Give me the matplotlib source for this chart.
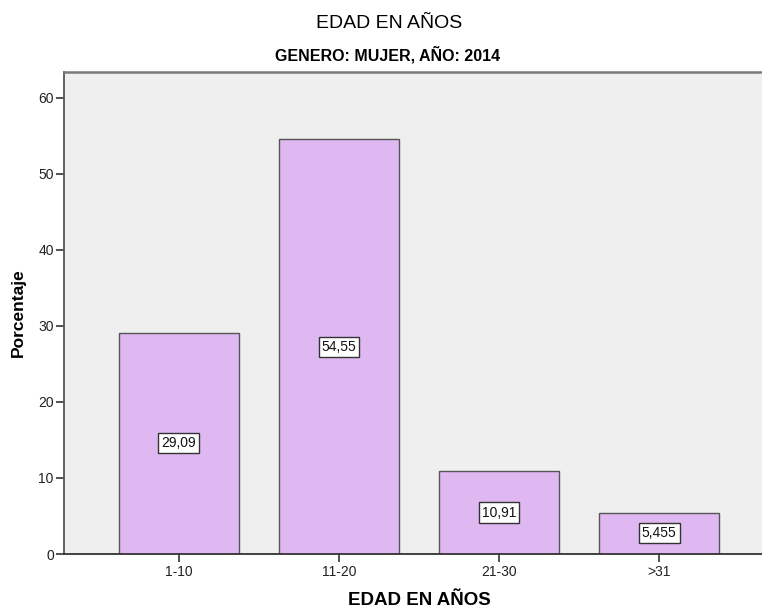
import matplotlib
matplotlib.use("Agg")
import matplotlib.pyplot as plt

categorias = ["1-10", "11-20", "21-30", ">31"]
porcentajes = [29.09, 54.55, 10.91, 5.455]
etiquetas = ["29,09", "54,55", "10,91", "5,455"]
y_ticks = [0, 10, 20, 30, 40, 50, 60]

plt.rcParams["font.family"] = ["Liberation Sans", "DejaVu Sans"]

W, H = 762, 612
fig = plt.figure(figsize=(W / 100, H / 100), dpi=100)
# axes runs a bit past the right border of the figure
x0, x1, y0, y1 = 63.5, 774.5, 72, 554
ax = fig.add_axes([x0 / W, 1 - y1 / H, (x1 - x0) / W, (y1 - y0) / H])
ax.set_facecolor("#efefef")

pos = list(range(len(categorias)))
ax.bar(pos, porcentajes, width=0.75, color="#dfb8f2", edgecolor="#555555",
       linewidth=1.0, zorder=2)

for p, v, t in zip(pos, porcentajes, etiquetas):
    ax.text(p, v / 2, t, ha="center", va="center", fontsize=10, color="#111111",
            bbox=dict(boxstyle="square,pad=0.22", facecolor="white",
                      edgecolor="#333333", linewidth=1.0), zorder=3)

ax.set_xlim(-0.72, 3.72)
ax.set_ylim(0, 63.4)
ax.set_xticks(pos)
ax.set_xticklabels(categorias)
ax.set_yticks(y_ticks)
ax.tick_params(axis="both", direction="out", length=6, width=1.2,
               colors="#333333", labelcolor="#222222", labelsize=10)
ax.tick_params(axis="y", pad=1)
ax.tick_params(axis="x", pad=2)

for s in ["top", "right"]:
    ax.spines[s].set_color("#7a7a7a")
    ax.spines[s].set_linewidth(1.8)
ax.spines["left"].set_color("#555555")
ax.spines["left"].set_linewidth(1.3)
ax.spines["bottom"].set_color("#333333")
ax.spines["bottom"].set_linewidth(1.3)

ax.set_ylabel("Porcentaje", fontsize=12.5, fontweight="bold", labelpad=9)
ax.set_xlabel("EDAD EN AÑOS", fontsize=13.5, fontweight="bold", labelpad=9)

fig.text(389 / W, 1 - 23 / H, "EDAD EN AÑOS", ha="center", va="center",
         fontsize=14)
fig.text(388 / W, 1 - 55 / H, "GENERO: MUJER, AÑO: 2014", ha="center",
         va="center", fontsize=11.5, fontweight="bold")

fig.savefig("out.png", dpi=100)
